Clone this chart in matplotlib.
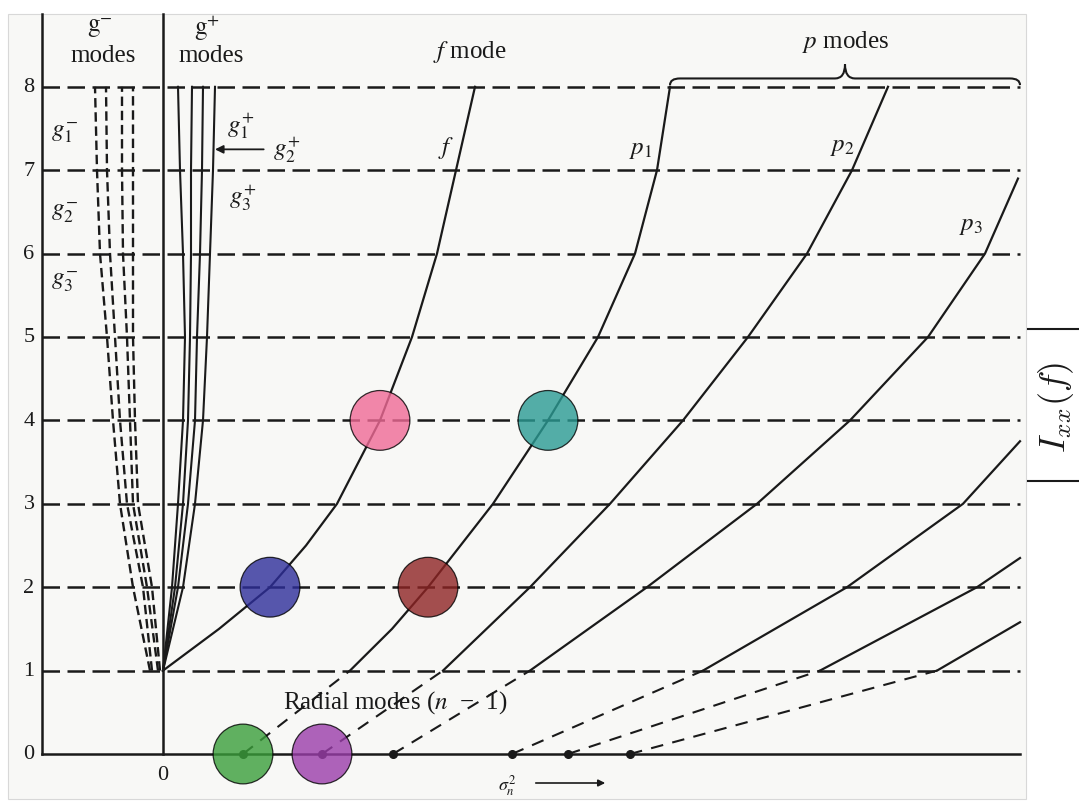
import numpy as np
import matplotlib
matplotlib.use("Agg")
import matplotlib.pyplot as plt
from matplotlib.patches import Rectangle, PathPatch
from matplotlib.path import Path

plt.rcParams["font.family"] = ["Liberation Serif", "DejaVu Serif"]
plt.rcParams["mathtext.fontset"] = "stix"

# ── data: x = sigma^2 (arbitrary units, 0 at the centre line), y = l ──
levels = [1, 2, 3, 4, 5, 6, 7, 8]

f_l = [1, 1.5, 2, 2.5, 3, 4, 5, 6, 7, 8]
f_x = [0.00, 0.56, 1.07, 1.43, 1.74, 2.17, 2.49, 2.74, 2.93, 3.12]

# radial modes (l = 0) — start of each p branch
radial_x = [0.80, 1.59, 2.30, 3.49, 4.05, 4.67]

p1_l = [1, 1.5, 2, 3, 4, 5, 6, 7, 8]
p1_x = [1.87, 2.29, 2.65, 3.30, 3.85, 4.35, 4.72, 4.94, 5.07]
p2_l = [1, 2, 3, 4, 5, 6, 7, 8]
p2_x = [2.80, 3.67, 4.47, 5.20, 5.85, 6.44, 6.89, 7.25]
p3_l = [1, 2, 3, 4, 5, 6, 6.9]
p3_x = [3.67, 4.84, 5.94, 6.87, 7.65, 8.22, 8.55]
p4_l = [1, 2, 3, 3.75]
p4_x = [5.40, 6.84, 8.00, 8.57]
p5_l = [1, 2, 2.35]
p5_x = [6.57, 8.14, 8.57]
p6_l = [1, 1.58]
p6_x = [7.74, 8.57]

# g+ modes (solid, fan out of l = 1)
gp_l = [1, 2, 3, 4, 5, 6, 7, 8]
gp1_x = [0.00, 0.09, 0.15, 0.20, 0.22, 0.20, 0.17, 0.15]
gp2_x = [0.00, 0.12, 0.20, 0.25, 0.27, 0.28, 0.28, 0.29]
gp3_x = [0.00, 0.15, 0.25, 0.32, 0.34, 0.37, 0.39, 0.40]
gp4_x = [0.00, 0.20, 0.32, 0.40, 0.44, 0.47, 0.50, 0.52]

# g- modes (dashed, sigma^2 < 0)
gm_l = [1, 2, 3, 4, 5, 6, 7, 8]
gm1_x = [-0.13, -0.30, -0.43, -0.50, -0.56, -0.63, -0.66, -0.68]
gm2_x = [-0.11, -0.20, -0.36, -0.43, -0.48, -0.53, -0.56, -0.57]
gm3_x = [-0.05, -0.16, -0.30, -0.33, -0.36, -0.40, -0.41, -0.41]
gm4_x = [-0.03, -0.11, -0.25, -0.28, -0.30, -0.30, -0.30, -0.30]

x_left, x_right = -1.21, 8.57
l_top = 8.87

# highlight markers
hl_colors = ["#F06A96", "#2A9A93", "#2E2E9A", "#8E2424", "#3A9E3A", "#9A3DAA"]


# pixel-ish helpers for placing labels
def X(px):
    return (px - 163) / 100


def L(py):
    return (755 - py) / 83.4


fig = plt.figure(figsize=(10.79, 8.04), dpi=100)
ax = fig.add_axes([0, 0, 1, 1])
ax.set_xlim(X(0), X(1079))
ax.set_ylim(L(804), L(0))
ax.axis("off")

ax.add_patch(Rectangle((X(8), L(800)), X(1026) - X(8), L(15) - L(800),
                       facecolor="#f8f8f6", edgecolor="#d8d8d8", lw=0.8, zorder=0))

ink = "#1a1a1a"
hdash = (0, (7, 3))

# frame lines
ax.plot([x_left, x_left], [0, l_top], color=ink, lw=1.8)
ax.plot([0, 0], [0, l_top], color=ink, lw=1.8)
ax.plot([x_left, x_right], [0, 0], color=ink, lw=1.8)

# dashed level lines
for l in levels:
    ax.plot([x_left, x_right], [l, l], color=ink, lw=1.8, ls=hdash)

# g- modes
for gx in [gm1_x, gm2_x, gm3_x, gm4_x]:
    ax.plot(gx, gm_l, color=ink, lw=1.7, ls=(0, (4, 2)))

# g+ modes
for gx in [gp1_x, gp2_x, gp3_x, gp4_x]:
    ax.plot(gx, gp_l, color=ink, lw=1.5)

# f mode
ax.plot(f_x, f_l, color=ink, lw=1.6)

# p modes: dashed radial connection then solid branch
p_branches = [(p1_x, p1_l), (p2_x, p2_l), (p3_x, p3_l),
              (p4_x, p4_l), (p5_x, p5_l), (p6_x, p6_l)]
for x0, (px_, pl_) in zip(radial_x, p_branches):
    ax.plot([x0, px_[0]], [0, pl_[0]], color=ink, lw=1.5, ls=(0, (6, 4.5)))
    ax.plot(px_, pl_, color=ink, lw=1.6)

ax.plot(radial_x, np.zeros(len(radial_x)), "o", color=ink, ms=5.5)

# highlighted points
hl_x = [f_x[5], p1_x[4], f_x[2], p1_x[2], radial_x[0], radial_x[1]]
hl_y = [f_l[5], p1_l[4], f_l[2], p1_l[2], 0, 0]
ax.scatter(hl_x, hl_y, s=1850, c=hl_colors, alpha=0.8,
           edgecolors="black", linewidths=0.9, zorder=5)

# brace over p modes
bx0, bx1 = p1_x[-1], x_right
bm = (bx0 + bx1) / 2
yb, yt = 8.1, 8.27
verts = [(bx0, 8.02), (bx0, yb), (bx0 + 0.1, yb),
         (bm - 0.1, yb), (bm, yb), (bm, yt),
         (bm, yb), (bm + 0.1, yb),
         (bx1 - 0.1, yb), (bx1, yb), (bx1, 8.02)]
codes = [Path.MOVETO, Path.CURVE3, Path.CURVE3,
         Path.LINETO, Path.CURVE3, Path.CURVE3,
         Path.CURVE3, Path.CURVE3,
         Path.LINETO, Path.CURVE3, Path.CURVE3]
ax.add_patch(PathPatch(Path(verts, codes), fill=False, lw=1.5, edgecolor=ink))

# text
fs = 18
ax.text(X(100), L(28), r"$\mathrm{g}^{-}$", fontsize=fs, ha="center", va="center", color=ink)
ax.text(X(103), L(56), "modes", fontsize=fs, ha="center", va="center", color=ink)
ax.text(X(207), L(28), r"$\mathrm{g}^{+}$", fontsize=fs, ha="center", va="center", color=ink)
ax.text(X(211), L(56), "modes", fontsize=fs, ha="center", va="center", color=ink)
ax.text(X(470), L(52), r"$f$ mode", fontsize=fs, ha="center", va="center", color=ink)
ax.text(X(846), L(42), r"$p$ modes", fontsize=fs, ha="center", va="center", color=ink)

ax.text(X(446), L(148), r"$f$", fontsize=fs, ha="center", va="center", color=ink)
ax.text(X(641), L(150), r"$p_1$", fontsize=fs, ha="center", va="center", color=ink)
ax.text(X(842), L(147), r"$p_2$", fontsize=fs, ha="center", va="center", color=ink)
ax.text(X(971), L(226), r"$p_3$", fontsize=fs, ha="center", va="center", color=ink)

ax.text(X(241), L(126), r"$g_1^{+}$", fontsize=fs, ha="center", va="center", color=ink)
ax.text(X(243), L(198), r"$g_3^{+}$", fontsize=fs, ha="center", va="center", color=ink)
ax.annotate(r"$g_2^{+}$", xy=(gp4_x[6] + 0.02, 7.25), xytext=(X(287), 7.25),
            fontsize=fs, ha="center", va="center", color=ink,
            arrowprops=dict(arrowstyle="-|>", color=ink, lw=1.3,
                            shrinkA=5, shrinkB=0, mutation_scale=12))
ax.text(X(64), L(133), r"$g_1^{-}$", fontsize=fs, ha="center", va="center", color=ink)
ax.text(X(64), L(213), r"$g_2^{-}$", fontsize=fs, ha="center", va="center", color=ink)
ax.text(X(64), L(282), r"$g_3^{-}$", fontsize=fs, ha="center", va="center", color=ink)

ax.text(X(395), L(703), "Radial modes ($n$  \u2212  1)", fontsize=fs, ha="center",
        va="center", color=ink)

for l in [0] + levels:
    ax.text(X(29), l, str(l), fontsize=16, ha="center", va="center", color=ink)
ax.text(0, L(776), "0", fontsize=16, ha="center", va="center", color=ink)

ax.text(X(507), L(786), r"$\sigma_n^2$", fontsize=13, ha="center", va="center", color=ink)
ax.annotate("", xy=(X(608), L(784)), xytext=(X(533), L(784)),
            arrowprops=dict(arrowstyle="-|>", color=ink, lw=1.2, mutation_scale=10))

# cut-off label on the right
ax.plot([X(1028), X(1079)], [L(330), L(330)], color=ink, lw=1.5)
ax.plot([X(1028), X(1079)], [L(482), L(482)], color=ink, lw=1.5)
ax.text(X(1056), L(407), r"$I_{xx}(f)$", fontsize=26, rotation=90,
        ha="center", va="center", color=ink, math_fontfamily="cm")

fig.savefig("out.png", dpi=100)
